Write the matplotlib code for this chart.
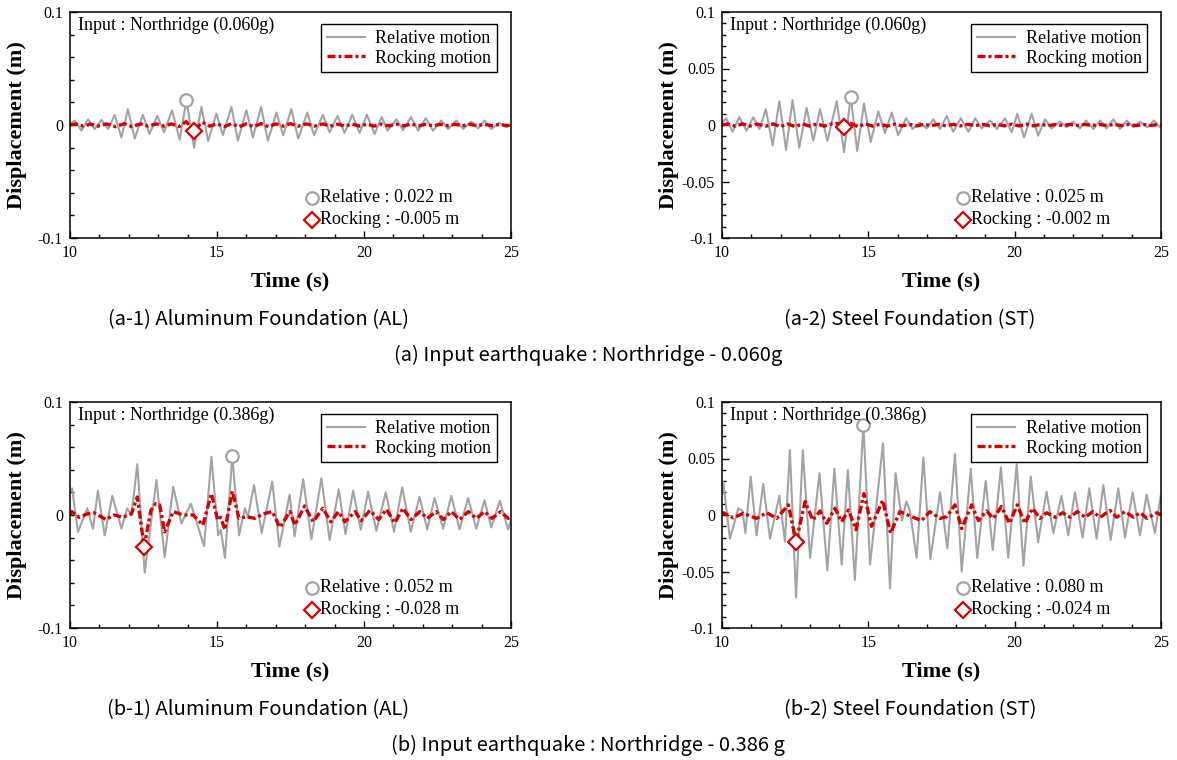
import matplotlib
matplotlib.use("Agg")
import numpy as np
import matplotlib.pyplot as plt
from matplotlib.ticker import MultipleLocator, FuncFormatter

plt.rcParams["font.family"] = ["Liberation Serif", "DejaVu Serif"]
plt.rcParams["axes.unicode_minus"] = False

# ---- (a-1) Aluminum, Northridge 0.060g : peaks / troughs
a1_rel_t = [10.0, 10.16, 10.39, 10.61, 10.84, 11.07, 11.30, 11.52, 11.75, 11.97, 12.20, 12.48, 12.70,
            12.97, 13.20, 13.47, 13.73, 13.96, 14.22, 14.47, 14.70, 14.98, 15.20, 15.49, 15.71, 16.00,
            16.22, 16.50, 16.73, 17.02, 17.25, 17.53, 17.76, 18.07, 18.30, 18.60, 18.83, 19.10, 19.34,
            19.60, 19.85, 20.10, 20.36, 20.60, 20.80, 21.10, 21.33, 21.60, 21.84, 22.10, 22.35, 22.63,
            22.86, 23.14, 23.37, 23.65, 23.88, 24.10, 24.33, 24.60, 24.84, 25.0]
a1_rel_v = [0.001, 0.004, -0.005, 0.005, -0.0035, 0.0045, -0.0035, 0.009, -0.011, 0.014, -0.012, 0.009,
            -0.008, 0.008, -0.0065, 0.013, -0.013, 0.022, -0.02, 0.016, -0.014, 0.01, -0.009, 0.016,
            -0.014, 0.013, -0.011, 0.016, -0.014, 0.011, -0.009, 0.014, -0.012, 0.011, -0.009, 0.009,
            -0.0065, 0.008, -0.007, 0.009, -0.007, 0.009, -0.008, 0.007, -0.005, 0.005, -0.0045, 0.007,
            -0.005, 0.006, -0.005, 0.004, -0.0035, 0.004, -0.0035, 0.003, -0.003, 0.004, -0.0035, 0.002,
            -0.002, 0.0]
a1_rock_t = [10.0, 10.2, 10.45, 10.7, 10.95, 11.25, 11.55, 11.85, 12.1, 12.4, 12.65, 12.95, 13.2, 13.45,
             13.7, 13.95, 14.22, 14.5, 14.75, 15.0, 15.25, 15.5, 15.75, 16.0, 16.25, 16.5, 16.75, 17.0,
             17.25, 17.5, 17.75, 18.05, 18.3, 18.6, 18.85, 19.1, 19.35, 19.6, 19.85, 20.1, 20.35, 20.6,
             20.85, 21.1, 21.35, 21.6, 21.85, 22.1, 22.35, 22.6, 22.85, 23.1, 23.35, 23.6, 23.85, 24.1,
             24.35, 24.6, 24.85, 25.0]
a1_rock_v = [0.0, 0.001, -0.001, 0.0008, -0.001, 0.001, -0.0015, 0.0012, -0.0015, 0.001, -0.001, 0.001,
             -0.001, 0.001, -0.0015, 0.003, -0.005, 0.0025, -0.001, 0.001, -0.0015, 0.0012, -0.0015, 0.001,
             -0.0015, 0.0012, -0.0015, 0.001, -0.001, 0.0012, -0.001, 0.001, -0.001, 0.001, -0.001, 0.0008,
             -0.001, 0.0008, -0.001, 0.0008, -0.001, 0.0008, -0.0008, 0.0008, -0.0008, 0.0008, -0.0008,
             0.0006, -0.0006, 0.0006, -0.0006, 0.0006, -0.0006, 0.0006, -0.0006, 0.0006, -0.0006, 0.0005,
             -0.0005, 0.0]

# ---- (a-2) Steel, Northridge 0.060g
a2_rel_t = [10.0, 10.14, 10.36, 10.59, 10.84, 11.07, 11.28, 11.50, 11.73, 11.96, 12.19, 12.41, 12.64,
            12.89, 13.12, 13.35, 13.60, 13.92, 14.17, 14.40, 14.62, 14.85, 15.08, 15.34, 15.57, 15.80,
            16.02, 16.29, 16.51, 16.77, 16.99, 17.22, 17.45, 17.68, 17.90, 18.16, 18.42, 18.65, 18.87,
            19.16, 19.39, 19.67, 19.90, 20.09, 20.32, 20.58, 20.80, 21.04, 21.26, 21.55, 21.77, 22.00,
            22.23, 22.44, 22.69, 22.92, 23.14, 23.37, 23.60, 23.83, 24.06, 24.28, 24.53, 24.76, 24.97]
a2_rel_v = [0.002, 0.006, -0.006, 0.007, -0.005, 0.007, -0.0035, 0.014, -0.018, 0.021, -0.022, 0.022,
            -0.02, 0.015, -0.014, 0.014, -0.014, 0.021, -0.024, 0.025, -0.023, 0.019, -0.015, 0.012,
            -0.007, 0.011, -0.009, 0.006, -0.0035, 0.002, -0.003, 0.005, -0.0035, 0.008, -0.006, 0.006,
            -0.006, 0.006, -0.003, 0.004, -0.0035, 0.006, -0.0065, 0.01, -0.011, 0.01, -0.0095, 0.005,
            -0.003, 0.003, -0.002, 0.003, -0.003, 0.004, -0.0035, 0.004, -0.003, 0.005, -0.0035, 0.004,
            -0.002, 0.003, -0.002, 0.004, -0.002]
a2_rock_t = [10.0, 10.2, 10.45, 10.7, 10.95, 11.2, 11.5, 11.75, 12.0, 12.25, 12.5, 12.75, 13.0, 13.25,
             13.5, 13.75, 13.95, 14.17, 14.4, 14.65, 14.9, 15.15, 15.4, 15.65, 15.9, 16.15, 16.4, 16.65,
             16.9, 17.15, 17.4, 17.65, 17.9, 18.15, 18.4, 18.65, 18.9, 19.15, 19.4, 19.65, 19.9, 20.15,
             20.4, 20.65, 20.9, 21.15, 21.4, 21.65, 21.9, 22.15, 22.4, 22.65, 22.9, 23.15, 23.4, 23.65,
             23.9, 24.15, 24.4, 24.65, 24.9, 25.0]
a2_rock_v = [0.0, 0.001, -0.001, 0.001, -0.001, 0.0008, -0.001, 0.001, -0.0015, 0.001, -0.0015, 0.001,
             -0.001, 0.001, -0.001, 0.001, 0.0015, -0.002, 0.0015, -0.0015, 0.001, -0.001, 0.0008, -0.001,
             0.0008, -0.0008, 0.0006, -0.0008, 0.0006, -0.0006, 0.0006, -0.0008, 0.0006, -0.0008, 0.0006,
             -0.0006, 0.0006, -0.0006, 0.0006, -0.0008, 0.0008, -0.0008, 0.0008, -0.0008, 0.0006, -0.0006,
             0.0005, -0.0005, 0.0005, -0.0005, 0.0005, -0.0005, 0.0005, -0.0005, 0.0005, -0.0005, 0.0005,
             -0.0005, 0.0005, -0.0005, 0.0005, 0.0]

# ---- (b-1) Aluminum, Northridge 0.386g
b1_rel_t = [10.0, 10.07, 10.27, 10.59, 10.78, 10.95, 11.18, 11.44, 11.75, 11.95, 12.09, 12.29, 12.54,
            12.94, 13.22, 13.51, 13.79, 14.11, 14.56, 14.81, 15.04, 15.13, 15.27, 15.52, 15.75, 15.95,
            16.05, 16.26, 16.52, 16.88, 17.12, 17.47, 17.64, 17.93, 18.21, 18.55, 18.83, 19.14, 19.37,
            19.63, 19.89, 20.14, 20.42, 20.74, 21.02, 21.30, 21.59, 21.89, 22.15, 22.40, 22.69, 22.97,
            23.25, 23.54, 23.82, 24.10, 24.33, 24.62, 24.90, 25.0]
b1_rel_v = [0.02, 0.0236, -0.015, 0.006, -0.012, 0.0215, -0.018, 0.017, -0.012, 0.006, 0.0, 0.045,
            -0.051, 0.031, -0.0375, 0.025, -0.0075, 0.01, -0.0275, 0.0516, -0.018, -0.013, -0.038, 0.052,
            -0.018, 0.006, -0.002, 0.0265, -0.016, 0.0295, -0.028, 0.018, -0.019, 0.0316, -0.0215, 0.0325,
            -0.022, 0.0227, -0.017, 0.0215, -0.013, 0.0206, -0.014, 0.02, -0.0148, 0.0245, -0.0148, 0.016,
            -0.0127, 0.015, -0.012, 0.017, -0.0127, 0.015, -0.012, 0.013, -0.011, 0.0127, -0.0127, -0.005]
b1_rock_t = [10.0, 10.06, 10.3, 10.59, 10.82, 11.22, 11.5, 11.79, 12.09, 12.29, 12.52, 12.75, 12.91,
             13.05, 13.22, 13.51, 13.85, 14.19, 14.52, 14.81, 15.02, 15.12, 15.27, 15.52, 15.75, 16.0,
             16.29, 16.57, 16.88, 17.14, 17.48, 17.65, 17.98, 18.27, 18.6, 18.87, 19.13, 19.35, 19.7,
             19.9, 20.2, 20.5, 20.76, 21.05, 21.32, 21.6, 21.9, 22.15, 22.45, 22.7, 22.97, 23.25, 23.55,
             23.82, 24.1, 24.35, 24.65, 24.9, 25.0]
b1_rock_v = [0.0, 0.003, -0.002, 0.001, 0.002, -0.004, 0.0, -0.002, 0.001, 0.016, -0.028, 0.004, 0.010,
             0.009, -0.015, 0.003, 0.0, 0.0, -0.009, 0.019, -0.0044, -0.002, -0.013, 0.021, -0.003, -0.0015,
             -0.003, 0.001, 0.003, -0.011, 0.003, -0.009, 0.008, -0.006, 0.006, -0.006, 0.003, -0.006,
             0.003, -0.005, 0.004, -0.004, 0.005, -0.007, 0.006, -0.004, 0.003, -0.003, 0.003, -0.004,
             0.003, -0.004, 0.003, -0.003, 0.003, -0.003, 0.003, -0.003, -0.001]

# ---- (b-2) Steel, Northridge 0.386g
b2_rel_t = [10.0, 10.04, 10.27, 10.56, 10.70, 10.80, 10.98, 11.18, 11.41, 11.64, 11.96, 12.15, 12.32,
            12.53, 12.76, 13.01, 13.33, 13.60, 13.84, 14.09, 14.30, 14.54, 14.83, 15.06, 15.50, 15.74,
            15.93, 16.15, 16.30, 16.42, 16.65, 16.88, 17.12, 17.45, 17.70, 17.96, 18.19, 18.50, 18.72,
            19.01, 19.25, 19.53, 19.78, 20.07, 20.30, 20.55, 20.80, 21.09, 21.32, 21.60, 21.83, 22.06,
            22.32, 22.55, 22.80, 23.03, 23.28, 23.54, 23.77, 24.03, 24.28, 24.51, 24.79, 24.99]
b2_rel_v = [0.02, 0.0295, -0.021, 0.006, 0.0035, -0.016, 0.034, -0.018, 0.0275, -0.021, 0.017, -0.0235,
            0.0575, -0.073, 0.0575, -0.038, 0.037, -0.049, 0.041, -0.044, 0.04, -0.0575, 0.080, -0.0437,
            0.0634, -0.065, 0.037, -0.005, 0.012, 0.004, -0.038, 0.051, -0.039, 0.02, -0.0295, 0.054,
            -0.05, 0.041, -0.038, 0.030, -0.031, 0.042, -0.038, 0.045, -0.045, 0.034, -0.024, 0.0206,
            -0.016, 0.017, -0.018, 0.02, -0.02, 0.0236, -0.021, 0.0265, -0.022, 0.0236, -0.02, 0.02,
            -0.018, 0.018, -0.016, 0.017]
b2_rock_t = [10.0, 10.04, 10.39, 10.73, 11.18, 11.53, 11.87, 12.27, 12.53, 12.84, 13.1, 13.35, 13.58,
             13.86, 14.09, 14.32, 14.58, 14.85, 15.11, 15.49, 15.76, 16.08, 16.48, 16.82, 17.1, 17.45,
             17.68, 17.96, 18.19, 18.53, 18.76, 19.04, 19.27, 19.55, 19.82, 20.09, 20.35, 20.61, 20.86,
             21.09, 21.38, 21.64, 21.89, 22.14, 22.41, 22.67, 22.92, 23.26, 23.49, 23.77, 24.06, 24.29,
             24.52, 24.86, 25.0]
b2_rock_v = [0.0, 0.002, -0.0025, 0.0015, -0.003, 0.002, -0.003, 0.009, -0.024, 0.012, -0.0045, 0.0035,
             -0.0074, 0.006, -0.006, 0.0044, -0.013, 0.019, -0.01, 0.013, -0.016, 0.003, -0.0015, -0.005,
             0.003, -0.003, -0.0015, 0.009, -0.012, 0.009, -0.005, 0.0035, -0.003, 0.0075, -0.0075, 0.009,
             -0.0075, 0.006, -0.003, 0.002, -0.002, 0.002, -0.002, 0.003, -0.002, 0.003, -0.002, 0.004,
             -0.002, 0.003, -0.002, 0.002, -0.003, 0.002, 0.0]

inputs = ["Input : Northridge (0.060g)", "Input : Northridge (0.060g)",
          "Input : Northridge (0.386g)", "Input : Northridge (0.386g)"]
subcaps = ["(a-1) Aluminum Foundation (AL)", "(a-2) Steel Foundation (ST)",
           "(b-1) Aluminum Foundation (AL)", "(b-2) Steel Foundation (ST)"]
captions = ["(a) Input earthquake : Northridge - 0.060g", "(b) Input earthquake : Northridge - 0.386 g"]

GREY = "#a3a3a3"
RED = "#d50000"
CAP_FONT = ["Noto Sans CJK KR", "DejaVu Sans"]

fig = plt.figure(figsize=(11.77, 7.6), dpi=100)
W, H = 1177.0, 760.0

panels = [
    (a1_rel_t, a1_rel_v, a1_rock_t, a1_rock_v, 70, 12, 441, 0.1, 0.02),
    (a2_rel_t, a2_rel_v, a2_rock_t, a2_rock_v, 722, 12, 439, 0.05, 0.01),
    (b1_rel_t, b1_rel_v, b1_rock_t, b1_rock_v, 70, 402, 441, 0.1, 0.02),
    (b2_rel_t, b2_rel_v, b2_rock_t, b2_rock_v, 722, 402, 439, 0.05, 0.01),
]

fmt = FuncFormatter(lambda v, p: f"{round(v, 3) + 0:g}")

for i, (rt, rv, kt, kv, x0, y0, w, major, minor) in enumerate(panels):
    ax = fig.add_axes([x0 / W, 1 - (y0 + 226) / H, w / W, 226 / H])
    ax.plot(rt, rv, color=GREY, lw=1.5, solid_joinstyle="round", label="Relative motion")
    ax.plot(kt, kv, color=RED, lw=2.4, dashes=(2.4, 0.9, 0.9, 0.9), dash_joinstyle="round",
            label="Rocking motion")

    # peak of relative / minimum of rocking
    ip = int(np.argmax(rv))
    ik = int(np.argmin(kv))
    ax.plot(rt[ip], rv[ip], "o", ms=9, mfc="white", mec=GREY, mew=1.6)
    ax.plot(kt[ik], kv[ik], "D", ms=8, mfc="white", mec=RED, mew=1.6)

    ax.set_xlim(10, 25)
    ax.set_ylim(-0.1, 0.1)
    ax.xaxis.set_major_locator(MultipleLocator(5))
    ax.xaxis.set_minor_locator(MultipleLocator(1))
    ax.yaxis.set_major_locator(MultipleLocator(major))
    ax.yaxis.set_minor_locator(MultipleLocator(minor))
    ax.yaxis.set_major_formatter(fmt)
    ax.tick_params(which="both", direction="in", top=False, right=False, labelsize=11.5, pad=5)
    ax.tick_params(which="major", length=5, width=1)
    ax.tick_params(which="minor", length=3, width=1)
    for s in ax.spines.values():
        s.set_linewidth(1.1)

    leg = ax.legend(loc="upper right", bbox_to_anchor=(0.968, 0.945), borderaxespad=0,
                    fontsize=13, fancybox=False, edgecolor="black", framealpha=1,
                    handlelength=2.1, handletextpad=0.6, labelspacing=0.15, borderpad=0.3)
    leg.get_frame().set_linewidth(1.0)

    ax.text(0.018, 0.94, inputs[i], transform=ax.transAxes, fontsize=13, va="center", ha="left")

    ax.plot([0.549], [0.177], "o", ms=9, mfc="white", mec=GREY, mew=1.6, transform=ax.transAxes)
    ax.text(0.568, 0.177, f"Relative : {rv[ip]:.3f} m", transform=ax.transAxes, fontsize=13,
            va="center", ha="left")
    ax.plot([0.549], [0.08], "D", ms=8, mfc="white", mec=RED, mew=1.6, transform=ax.transAxes)
    ax.text(0.568, 0.08, f"Rocking : {kv[ik]:.3f} m", transform=ax.transAxes, fontsize=13,
            va="center", ha="left")

    cx = (x0 + w / 2) / W
    fig.text(cx, 1 - (y0 + 269) / H, "Time (s)", fontsize=16, fontweight="bold", ha="center", va="center")
    fig.text((x0 - 53) / W, 1 - (y0 + 113) / H, "Displacement (m)", fontsize=16, fontweight="bold",
             rotation=90, ha="center", va="center")
    fig.text((x0 - 65 + 253) / W, 1 - (y0 + 308) / H, subcaps[i], fontsize=14.5, family=CAP_FONT,
             ha="center", va="center")

fig.text(588 / W, 1 - 355 / H, captions[0], fontsize=14.5, family=CAP_FONT, ha="center", va="center")
fig.text(588 / W, 1 - 745 / H, captions[1], fontsize=14.5, family=CAP_FONT, ha="center", va="center")

fig.savefig("out.png", dpi=100)
